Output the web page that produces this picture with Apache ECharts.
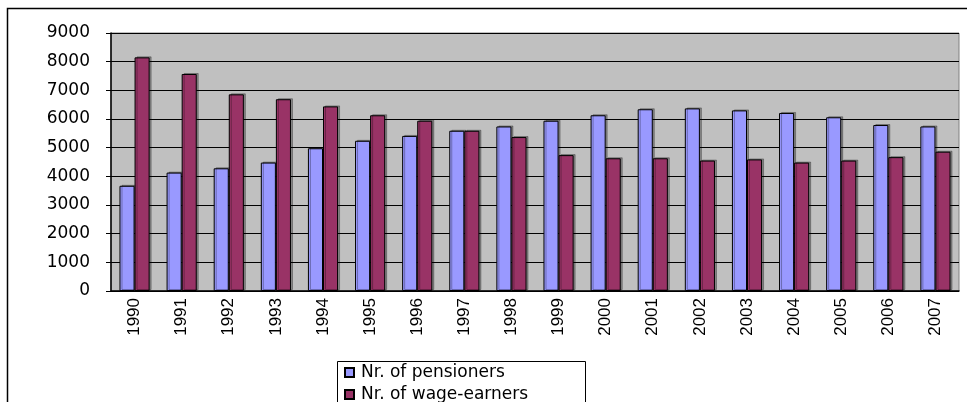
<!DOCTYPE html>
<html>
<head>
<meta charset="utf-8">
<script src="https://cdn.jsdelivr.net/npm/echarts@6/dist/echarts.min.js"></script>
<style>
  html, body { margin: 0; padding: 0; background: #fff; }
  #chart { width: 967px; height: 402px; }
</style>
</head>
<body>
<div id="chart"></div>
<script>
// data
const years = ["1990", "1991", "1992", "1993", "1994", "1995", "1996", "1997", "1998",
  "1999", "2000", "2001", "2002", "2003", "2004", "2005", "2006", "2007"];
const pensioners = [3670, 4130, 4280, 4480, 4980, 5240, 5410, 5590, 5740,
  5940, 6130, 6340, 6370, 6300, 6210, 6060, 5790, 5740];
const wageEarners = [8150, 7570, 6860, 6690, 6440, 6130, 5940, 5590, 5370,
  4740, 4630, 4630, 4550, 4590, 4480, 4550, 4670, 4860];
const seriesNames = ["Nr. of pensioners", "Nr. of wage-earners"];

const chart = echarts.init(document.getElementById("chart"));

const barStyle = (color) => ({
  color: color,
  borderColor: "#000",
  borderWidth: 1,
  shadowColor: "rgba(0,0,0,0.3)",
  shadowOffsetX: 2,
  shadowOffsetY: -1,
});

// one legend per row, so the box at the bottom does not wrap into columns
const legendRow = (name, top) => ({
  left: 344,
  top: top,
  padding: 0,
  itemWidth: 9,
  itemHeight: 9,
  icon: "rect",
  textStyle: { fontFamily: "DejaVu Sans", fontSize: 17, color: "#000", padding: [0, 0, 0, 2] },
  data: [name],
});

const option = {
  animation: false,
  textStyle: { fontFamily: "DejaVu Sans" },
  graphic: [
    // outer chart border
    { type: "rect", shape: { x: 7.5, y: 8.5, width: 975, height: 410 },
      style: { fill: null, stroke: "#000", lineWidth: 1.5 } },
    // legend box
    { type: "rect", shape: { x: 337.5, y: 361.5, width: 248, height: 60 },
      style: { fill: "#fff", stroke: "#000", lineWidth: 1 } },
  ],
  grid: {
    left: 111, right: 8, top: 33, bottom: 111,
    show: true,
    backgroundColor: "#C0C0C0",
    borderColor: "#808080",
    borderWidth: 1,
  },
  legend: [legendRow(seriesNames[0], 364), legendRow(seriesNames[1], 386)],
  xAxis: {
    type: "category",
    data: years,
    axisLine: { lineStyle: { color: "#000", width: 1.5 } },
    axisTick: { length: 5, lineStyle: { color: "#000" } },
    axisLabel: {
      rotate: 90,
      margin: 7,
      fontFamily: "Liberation Sans",
      fontSize: 17,
      color: "#000",
    },
  },
  yAxis: {
    type: "value",
    min: 0,
    max: 9000,
    interval: 1000,
    axisLine: { show: true, lineStyle: { color: "#000", width: 1.5 } },
    axisTick: { show: true, length: 5, lineStyle: { color: "#000" } },
    splitLine: { lineStyle: { color: "#000", width: 1 } },
    axisLabel: {
      margin: 21,
      fontFamily: "DejaVu Sans",
      fontSize: 17,
      color: "#000",
      formatter: (v) => String(v),
    },
  },
  series: [
    {
      name: seriesNames[0],
      type: "bar",
      data: pensioners,
      barGap: "0%",
      barCategoryGap: "36%",
      itemStyle: barStyle("#9999FF"),
    },
    {
      name: seriesNames[1],
      type: "bar",
      data: wageEarners,
      barGap: "0%",
      barCategoryGap: "36%",
      itemStyle: barStyle("#993366"),
    },
  ],
};

chart.setOption(option);
</script>
</body>
</html>
